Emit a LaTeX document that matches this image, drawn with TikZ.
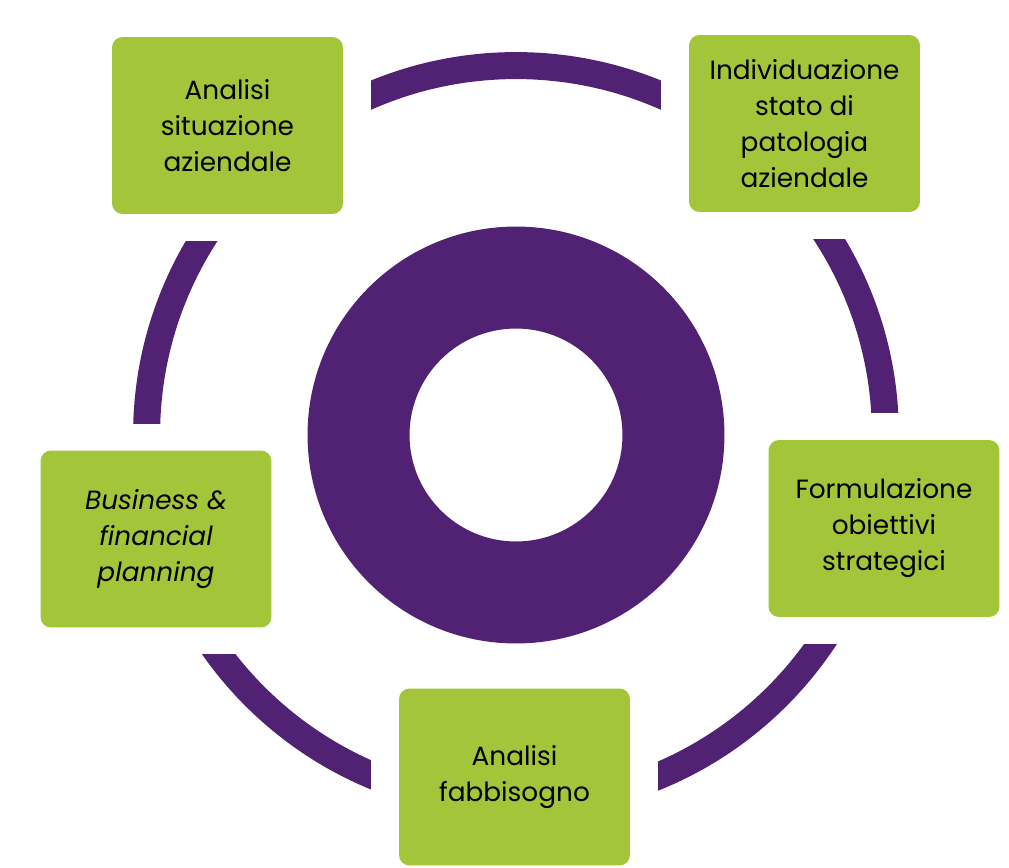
\documentclass[tikz,border=0pt]{standalone}
\usepackage{fontspec}
\setsansfont{Poppins}
\usetikzlibrary{positioning}

\definecolor{lila}{RGB}{81,33,115}
\definecolor{verde}{RGB}{162,197,58}

\begin{document}
\begin{tikzpicture}[x=0.02cm, y=-0.02cm,
    box/.style={fill=verde,rounded corners=6pt,minimum width=4.62cm,minimum height=3.54cm,align=center,inner sep=0pt,font=\sffamily\fontsize{15}{20.5}\selectfont},
    mask/.style={fill=white,minimum width=5.76cm,minimum height=4.62cm,inner sep=0pt}]
    \useasboundingbox (0,0) rectangle (1009,867);

    % outer ring and donut
    \coordinate (c) at (516,435);
    \draw[lila,line width=0.54cm] (c) circle (7.39cm);
    \fill[lila,even odd rule] (c) circle (4.17cm) (c) circle (2.13cm);

    % white masks behind the steps
    \node[mask] (m1) at (227.5,125.5) {};
    \node[mask] (m2) at (804.5,123.5) {};
    \node[mask] (m3) at (884,528.5) {};
    \node[mask] (m4) at (514.5,777) {};
    \node[mask] (m5) at (156,539) {};

    \node[box] (b1) at (m1) {Analisi\\situazione\\aziendale};
    \node[box] (b2) at (m2) {Individuazione\\stato di\\patologia\\aziendale};
    \node[box] (b3) at (m3) {Formulazione\\obiettivi\\strategici};
    \node[box] (b4) at (m4) {Analisi\\fabbisogno};
    \node[box] (b5) at (m5) {\itshape Business \&\\\itshape financial\\\itshape planning};
\end{tikzpicture}
\end{document}
